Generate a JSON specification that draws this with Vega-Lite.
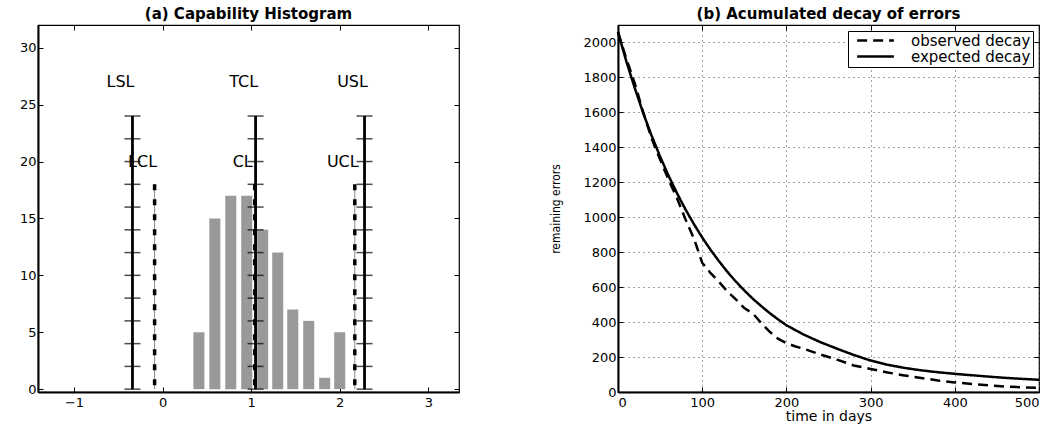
{
  "$schema": "https://vega.github.io/schema/vega-lite/v6.json",
  "background": "white",
  "padding": {"left": 18, "top": 5, "right": 5, "bottom": 5},
  "spacing": 88,
  "resolve": {"legend": {"strokeDash": "independent"}},
  "config": {
    "font": "DejaVu Sans",
    "view": {"stroke": "black", "strokeWidth": 1.2},
    "title": {"font": "DejaVu Sans", "fontSize": 15, "fontWeight": "bold", "color": "black", "offset": 3},
    "axis": {
      "labelFont": "DejaVu Sans", "labelFontSize": 13, "labelColor": "black",
      "tickColor": "black", "tickSize": -5, "tickWidth": 1, "labelPadding": 7,
      "domainColor": "black", "domainWidth": 2, "grid": false, "format": "d",
      "titleFont": "DejaVu Sans", "titleFontWeight": "normal", "titleColor": "black"
    },
    "axisX": {"labelPadding": 9},
    "legend": {"labelFont": "DejaVu Sans"}
  },
  "datasets": {
    "bars": [
      {"center": 0.41, "count": 5}, {"center": 0.59, "count": 15}, {"center": 0.77, "count": 17},
      {"center": 0.95, "count": 17}, {"center": 1.13, "count": 14}, {"center": 1.30, "count": 12},
      {"center": 1.47, "count": 7}, {"center": 1.65, "count": 6}, {"center": 1.83, "count": 1},
      {"center": 2.00, "count": 5}
    ],
    "spec": [
      {"label": "LSL", "pos": -0.34, "top": 24, "labelLevel": 27},
      {"label": "TCL", "pos": 1.05, "top": 24, "labelLevel": 27},
      {"label": "USL", "pos": 2.28, "top": 24, "labelLevel": 27}
    ],
    "control": [
      {"label": "LCL", "pos": -0.09, "top": 18, "labelLevel": 20},
      {"label": "CL", "pos": 1.04, "top": 18, "labelLevel": 20},
      {"label": "UCL", "pos": 2.17, "top": 18, "labelLevel": 20}
    ],
    "specTicks": [
      {"pos": -0.34, "level": 0}, {"pos": -0.34, "level": 2}, {"pos": -0.34, "level": 4}, {"pos": -0.34, "level": 6},
      {"pos": -0.34, "level": 8}, {"pos": -0.34, "level": 10}, {"pos": -0.34, "level": 12}, {"pos": -0.34, "level": 14},
      {"pos": -0.34, "level": 16}, {"pos": -0.34, "level": 18}, {"pos": -0.34, "level": 20}, {"pos": -0.34, "level": 22},
      {"pos": -0.34, "level": 24},
      {"pos": 1.05, "level": 0}, {"pos": 1.05, "level": 2}, {"pos": 1.05, "level": 4}, {"pos": 1.05, "level": 6},
      {"pos": 1.05, "level": 8}, {"pos": 1.05, "level": 10}, {"pos": 1.05, "level": 12}, {"pos": 1.05, "level": 14},
      {"pos": 1.05, "level": 16}, {"pos": 1.05, "level": 18}, {"pos": 1.05, "level": 20}, {"pos": 1.05, "level": 22},
      {"pos": 1.05, "level": 24},
      {"pos": 2.28, "level": 0}, {"pos": 2.28, "level": 2}, {"pos": 2.28, "level": 4}, {"pos": 2.28, "level": 6},
      {"pos": 2.28, "level": 8}, {"pos": 2.28, "level": 10}, {"pos": 2.28, "level": 12}, {"pos": 2.28, "level": 14},
      {"pos": 2.28, "level": 16}, {"pos": 2.28, "level": 18}, {"pos": 2.28, "level": 20}, {"pos": 2.28, "level": 22},
      {"pos": 2.28, "level": 24}
    ],
    "decay": [
      {"t": 0, "errors": 2060, "series": "observed decay"}, {"t": 10, "errors": 1905, "series": "observed decay"},
      {"t": 20, "errors": 1765, "series": "observed decay"}, {"t": 30, "errors": 1600, "series": "observed decay"},
      {"t": 40, "errors": 1450, "series": "observed decay"}, {"t": 50, "errors": 1330, "series": "observed decay"},
      {"t": 60, "errors": 1215, "series": "observed decay"}, {"t": 70, "errors": 1110, "series": "observed decay"},
      {"t": 80, "errors": 990, "series": "observed decay"}, {"t": 90, "errors": 880, "series": "observed decay"},
      {"t": 100, "errors": 740, "series": "observed decay"}, {"t": 110, "errors": 680, "series": "observed decay"},
      {"t": 120, "errors": 630, "series": "observed decay"}, {"t": 130, "errors": 575, "series": "observed decay"},
      {"t": 140, "errors": 530, "series": "observed decay"}, {"t": 150, "errors": 480, "series": "observed decay"},
      {"t": 160, "errors": 450, "series": "observed decay"}, {"t": 170, "errors": 395, "series": "observed decay"},
      {"t": 180, "errors": 345, "series": "observed decay"}, {"t": 190, "errors": 305, "series": "observed decay"},
      {"t": 200, "errors": 280, "series": "observed decay"}, {"t": 210, "errors": 262, "series": "observed decay"},
      {"t": 220, "errors": 248, "series": "observed decay"}, {"t": 240, "errors": 215, "series": "observed decay"},
      {"t": 260, "errors": 185, "series": "observed decay"}, {"t": 280, "errors": 152, "series": "observed decay"},
      {"t": 300, "errors": 132, "series": "observed decay"}, {"t": 320, "errors": 112, "series": "observed decay"},
      {"t": 340, "errors": 95, "series": "observed decay"}, {"t": 360, "errors": 80, "series": "observed decay"},
      {"t": 380, "errors": 66, "series": "observed decay"}, {"t": 400, "errors": 55, "series": "observed decay"},
      {"t": 420, "errors": 46, "series": "observed decay"}, {"t": 440, "errors": 38, "series": "observed decay"},
      {"t": 460, "errors": 31, "series": "observed decay"}, {"t": 480, "errors": 27, "series": "observed decay"},
      {"t": 500, "errors": 24, "series": "observed decay"},
      {"t": 0, "errors": 2060, "series": "expected decay"}, {"t": 10, "errors": 1890, "series": "expected decay"},
      {"t": 20, "errors": 1738, "series": "expected decay"}, {"t": 30, "errors": 1595, "series": "expected decay"},
      {"t": 40, "errors": 1466, "series": "expected decay"}, {"t": 50, "errors": 1347, "series": "expected decay"},
      {"t": 60, "errors": 1238, "series": "expected decay"}, {"t": 70, "errors": 1138, "series": "expected decay"},
      {"t": 80, "errors": 1046, "series": "expected decay"}, {"t": 90, "errors": 962, "series": "expected decay"},
      {"t": 100, "errors": 884, "series": "expected decay"}, {"t": 110, "errors": 813, "series": "expected decay"},
      {"t": 120, "errors": 748, "series": "expected decay"}, {"t": 130, "errors": 687, "series": "expected decay"},
      {"t": 140, "errors": 632, "series": "expected decay"}, {"t": 150, "errors": 581, "series": "expected decay"},
      {"t": 160, "errors": 534, "series": "expected decay"}, {"t": 170, "errors": 492, "series": "expected decay"},
      {"t": 180, "errors": 452, "series": "expected decay"}, {"t": 190, "errors": 416, "series": "expected decay"},
      {"t": 200, "errors": 382, "series": "expected decay"}, {"t": 220, "errors": 330, "series": "expected decay"},
      {"t": 240, "errors": 286, "series": "expected decay"}, {"t": 260, "errors": 248, "series": "expected decay"},
      {"t": 280, "errors": 212, "series": "expected decay"}, {"t": 300, "errors": 180, "series": "expected decay"},
      {"t": 320, "errors": 156, "series": "expected decay"}, {"t": 340, "errors": 138, "series": "expected decay"},
      {"t": 360, "errors": 124, "series": "expected decay"}, {"t": 380, "errors": 113, "series": "expected decay"},
      {"t": 400, "errors": 104, "series": "expected decay"}, {"t": 420, "errors": 96, "series": "expected decay"},
      {"t": 440, "errors": 88, "series": "expected decay"}, {"t": 460, "errors": 81, "series": "expected decay"},
      {"t": 480, "errors": 75, "series": "expected decay"}, {"t": 500, "errors": 70, "series": "expected decay"}
    ]
  },
  "hconcat": [
    {
      "width": 421,
      "height": 367,
      "title": {"text": "(a) Capability Histogram"},
      "resolve": {"axis": {"x": "independent", "y": "independent"}},
      "layer": [
        {
          "data": {"name": "bars"},
          "mark": {"type": "bar", "color": "#999999", "size": 11},
          "encoding": {
            "x": {"field": "center", "type": "quantitative",
                  "scale": {"domain": [-1.35, 3.29], "nice": false, "zero": false},
                  "axis": {"orient": "bottom", "values": [-1, 0, 1, 2, 3], "title": null}},
            "y": {"field": "count", "type": "quantitative",
                  "scale": {"domain": [-0.25, 32], "nice": false, "zero": false},
                  "axis": {"orient": "left", "values": [0, 5, 10, 15, 20, 25, 30], "title": null}},
            "y2": {"datum": 0}
          }
        },
        {
          "data": {"name": "control"},
          "mark": {"type": "rule", "color": "#888888", "strokeWidth": 1},
          "encoding": {
            "x": {"field": "pos", "type": "quantitative", "axis": null},
            "y": {"field": "top", "type": "quantitative", "axis": null},
            "y2": {"datum": 0}
          }
        },
        {
          "data": {"name": "control"},
          "mark": {"type": "rule", "color": "black", "strokeWidth": 3.5, "strokeDash": [6, 9]},
          "encoding": {
            "x": {"field": "pos", "type": "quantitative", "axis": null},
            "y": {"field": "top", "type": "quantitative", "axis": null},
            "y2": {"datum": 0}
          }
        },
        {
          "data": {"name": "spec"},
          "mark": {"type": "rule", "color": "black", "strokeWidth": 2.8},
          "encoding": {
            "x": {"field": "pos", "type": "quantitative", "axis": null},
            "y": {"field": "top", "type": "quantitative", "axis": null},
            "y2": {"datum": 0}
          }
        },
        {
          "data": {"name": "specTicks"},
          "mark": {"type": "tick", "orient": "horizontal", "size": 16, "thickness": 1.5, "color": "black"},
          "encoding": {
            "x": {"field": "pos", "type": "quantitative",
                  "axis": {"orient": "top", "values": [-1, 0, 1, 2, 3], "labels": false, "title": null, "domain": false}},
            "y": {"field": "level", "type": "quantitative",
                  "axis": {"orient": "right", "values": [0, 5, 10, 15, 20, 25, 30], "labels": false, "title": null, "domain": false}}
          }
        },
        {
          "data": {"name": "spec"},
          "mark": {"type": "text", "fontSize": 16, "dx": -12, "font": "DejaVu Sans", "color": "black"},
          "encoding": {
            "x": {"field": "pos", "type": "quantitative", "axis": null},
            "y": {"field": "labelLevel", "type": "quantitative", "axis": null},
            "text": {"field": "label", "type": "nominal"}
          }
        },
        {
          "data": {"name": "control"},
          "mark": {"type": "text", "fontSize": 16, "dx": -12, "font": "DejaVu Sans", "color": "black"},
          "encoding": {
            "x": {"field": "pos", "type": "quantitative", "axis": null},
            "y": {"field": "labelLevel", "type": "quantitative", "axis": null},
            "text": {"field": "label", "type": "nominal"}
          }
        }
      ]
    },
    {
      "width": 421,
      "height": 367,
      "title": {"text": "(b) Acumulated decay of errors"},
      "resolve": {"axis": {"x": "independent", "y": "independent"}},
      "data": {"name": "decay"},
      "layer": [
        {
          "mark": {"type": "line", "color": "black", "strokeWidth": 2.5},
          "encoding": {
            "x": {"field": "t", "type": "quantitative",
                  "scale": {"domain": [0, 500], "nice": false, "zero": false},
                  "axis": {"orient": "bottom", "values": [0, 100, 200, 300, 400, 500], "title": "time in  days",
                           "titleFontSize": 14, "titlePadding": 0, "grid": true, "gridColor": "#444444",
                           "gridDash": [1, 4], "gridWidth": 1}},
            "y": {"field": "errors", "type": "quantitative",
                  "scale": {"domain": [0, 2100], "nice": false, "zero": false},
                  "axis": {"orient": "left", "values": [0, 200, 400, 600, 800, 1000, 1200, 1400, 1600, 1800, 2000],
                           "title": "remaining errors", "titleFontSize": 12, "titlePadding": 20,
                           "titleFont": "DejaVu Sans Condensed", "grid": true, "gridColor": "#444444",
                           "gridDash": [1, 4], "gridWidth": 1}},
            "strokeDash": {"field": "series", "type": "nominal",
                           "scale": {"domain": ["observed decay", "expected decay"], "range": [[10, 6], [1, 0]]},
                           "legend": {"title": null, "orient": "top-right", "offset": 6, "strokeColor": "black",
                                      "fillColor": "white", "padding": 2, "labelFontSize": 15,
                                      "symbolType": "M -3 0 L 3 0", "symbolSize": 150, "symbolStrokeWidth": 2.5,
                                      "symbolStrokeColor": "black", "symbolOffset": 18,
                                      "rowPadding": -1, "labelOffset": 28, "cornerRadius": 0}}
          }
        },
        {
          "mark": {"type": "line", "color": "black", "strokeOpacity": 0},
          "encoding": {
            "x": {"field": "t", "type": "quantitative",
                  "axis": {"orient": "top", "values": [0, 100, 200, 300, 400, 500], "labels": false, "title": null, "domain": false}},
            "y": {"field": "errors", "type": "quantitative",
                  "axis": {"orient": "right", "values": [0, 200, 400, 600, 800, 1000, 1200, 1400, 1600, 1800, 2000],
                           "labels": false, "title": null, "domain": false}},
            "detail": {"field": "series", "type": "nominal"}
          }
        }
      ]
    }
  ]
}
